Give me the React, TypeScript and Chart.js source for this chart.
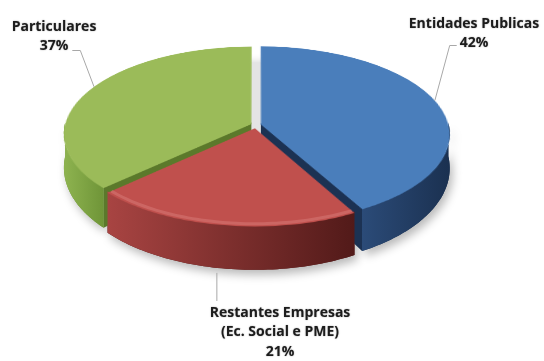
import React, { useEffect, useRef } from "react";
import { Chart, registerables } from "chart.js";

Chart.register(...registerables);

// ---------- data ----------
const categories = ["Entidades Publicas", "Restantes Empresas (Ec. Social e PME)", "Particulares"];
const labelLines = [["Entidades Publicas"], ["Restantes Empresas", "(Ec. Social e PME)"], ["Particulares"]];
const shares = [42, 21, 37];

// ---------- styles ----------
const topColors = ["#4a7ebb", "#c0504d", "#9bbb59"];
const wallColors = [
  ["#2b4b78", "#1b3151"],
  ["#a84442", "#521a19"],
  ["#8db24f", "#6f9538"],
];
const cutColors = ["#1c3253", "#7a2826", "#5b792b"];
const rimHighlights = ["rgba(0,0,0,0)", "rgba(255,190,190,0.2)", "rgba(0,0,0,0)"];
const explodeOffsets = [18, 25, 18];

const W = 544;
const H = 361;
const FLAT_RADIUS = 165;
// perspective view of the disc
const PERSP = 0.115;
const VIEW_X = 256;
const VIEW_Y = 125;
const SCALE_X = 185;
const SCALE_Y = 86;
const DEPTH_SIDE = 32;
const DEPTH_FRONT = 11;
const SEAM = 1.5;
const FONT = 'bold 14px "Open Sans", "Liberation Sans", sans-serif';
const LINE_H = 19.5;

// label layout: text center x, first line y, leader angle nudge (deg), leader kind
const labelLayout = [
  { x: 474, y: 24, nudge: -2, side: "left" },
  { x: 280, y: 313, nudge: 1.4, side: "bottom" },
  { x: 54, y: 27, nudge: 3.6, side: "right" },
];

function geom(arc: any) {
  const p = arc.getProps(["x", "y", "startAngle", "endAngle", "outerRadius", "circumference"], true);
  const off = (arc.options.offset || 0) / 4;
  const mid = (p.startAngle + p.endAngle) / 2;
  const fix = 1 - Math.sin(Math.min(Math.PI, p.circumference || 0));
  return {
    fx: p.x,
    fy: p.y,
    R: p.outerRadius,
    ax: p.x + Math.cos(mid) * off,
    ay: p.y + Math.sin(mid) * off,
    r: p.outerRadius + off * fix,
    start: p.startAngle,
    end: p.endAngle,
    mid,
  };
}

function project(g: any, px: number, py: number) {
  const u = (px - g.fx) / g.R;
  const v = (py - g.fy) / g.R;
  const w = 1 - PERSP * v;
  return { x: VIEW_X + (SCALE_X * u) / w, y: VIEW_Y + (SCALE_Y * v) / w, v };
}

const depthOf = (v: number) => DEPTH_SIDE + DEPTH_FRONT * v;

function rim(g: any, t: number, bottom: boolean, rr?: number) {
  const r = rr ?? g.r;
  const q = project(g, g.ax + r * Math.cos(t), g.ay + r * Math.sin(t));
  return { x: q.x, y: q.y + (bottom ? depthOf(q.v) : 0) };
}

function frontRanges(start: number, end: number) {
  const out: number[][] = [];
  for (const k of [-1, 0, 1]) {
    const lo = Math.max(start, 2 * Math.PI * k);
    const hi = Math.min(end, 2 * Math.PI * k + Math.PI);
    if (hi > lo + 1e-6) out.push([lo, hi]);
  }
  return out;
}

function wallPath(ctx: CanvasRenderingContext2D, g: any, t0: number, t1: number) {
  const N = 60;
  ctx.beginPath();
  for (let i = 0; i <= N; i++) {
    const p = rim(g, t0 + ((t1 - t0) * i) / N, false);
    if (i === 0) ctx.moveTo(p.x, p.y - SEAM);
    else ctx.lineTo(p.x, p.y - SEAM);
  }
  for (let i = N; i >= 0; i--) {
    const p = rim(g, t0 + ((t1 - t0) * i) / N, true);
    ctx.lineTo(p.x, p.y);
  }
  ctx.closePath();
}

function cutFace(ctx: CanvasRenderingContext2D, g: any, theta: number, color: string) {
  const c = project(g, g.ax, g.ay);
  const rTop = rim(g, theta, false);
  const rBot = rim(g, theta, true);
  ctx.beginPath();
  ctx.moveTo(c.x, c.y - SEAM);
  ctx.lineTo(rTop.x, rTop.y - SEAM);
  ctx.lineTo(rBot.x, rBot.y);
  ctx.lineTo(c.x, c.y + depthOf(c.v));
  ctx.closePath();
  ctx.fillStyle = color;
  ctx.fill();
}

const perspective3d = {
  id: "perspective3d",
  afterDatasetsDraw(chart: any) {
    const ctx: CanvasRenderingContext2D = chart.ctx;
    const canvas: HTMLCanvasElement = chart.canvas;
    const arcs = chart.getDatasetMeta(0).data;
    const gs = arcs.map(geom);
    const g0 = gs[0];

    // keep the flat pie drawn by Chart.js, then re-project it
    const flat = document.createElement("canvas");
    flat.width = canvas.width;
    flat.height = canvas.height;
    flat.getContext("2d")!.drawImage(canvas, 0, 0);
    ctx.save();
    ctx.setTransform(1, 0, 0, 1, 0, 0);
    ctx.clearRect(0, 0, canvas.width, canvas.height);

    // faint ground shadow under the disc
    ctx.save();
    ctx.shadowColor = "rgba(0,0,0,0.22)";
    ctx.shadowBlur = 8;
    ctx.beginPath();
    for (let i = 0; i <= 120; i++) {
      const t = (i / 120) * Math.PI * 2;
      const q = project(g0, g0.fx + g0.R * 0.93 * Math.cos(t), g0.fy + g0.R * 0.93 * Math.sin(t));
      if (i === 0) ctx.moveTo(q.x, q.y + 10);
      else ctx.lineTo(q.x, q.y + 10);
    }
    ctx.closePath();
    ctx.fillStyle = "#e4e4e4";
    ctx.fill();
    ctx.restore();

    // soft shadow of the walls
    ctx.save();
    ctx.shadowColor = "rgba(0,0,0,0.28)";
    ctx.shadowBlur = 10;
    ctx.shadowOffsetX = 3;
    ctx.shadowOffsetY = 5;
    gs.forEach((g: any, i: number) => {
      frontRanges(g.start, g.end).forEach(([a, b]) => {
        wallPath(ctx, g, a, b);
        ctx.fillStyle = wallColors[i][1];
        ctx.fill();
      });
    });
    ctx.restore();

    // radial cut faces
    gs.forEach((g: any, i: number) => {
      if (Math.cos(g.start) < -1e-6) cutFace(ctx, g, g.start, cutColors[i]);
      if (Math.cos(g.end) > 1e-6) cutFace(ctx, g, g.end, cutColors[i]);
    });

    // outer walls
    gs.forEach((g: any, i: number) => {
      frontRanges(g.start, g.end).forEach(([a, b]) => {
        const pa = rim(g, a, false);
        const pb = rim(g, b, false);
        const x0 = Math.min(pa.x, pb.x);
        const x1 = Math.max(pa.x, pb.x);
        const grad = ctx.createLinearGradient(x0, 0, x1 + 0.01, 0);
        grad.addColorStop(0, wallColors[i][0]);
        grad.addColorStop(1, wallColors[i][1]);
        wallPath(ctx, g, a, b);
        ctx.fillStyle = grad;
        ctx.fill();
      });
    });

    // top faces: row-by-row perspective re-projection of the Chart.js pie
    ctx.imageSmoothingEnabled = true;
    (ctx as any).imageSmoothingQuality = "high";
    const vOf = (Y: number) => {
      const d = Y - VIEW_Y;
      return d / (SCALE_Y + PERSP * d);
    };
    const yTop = Math.floor(VIEW_Y - (SCALE_Y * 1.1) / (1 + PERSP * 1.1)) - 2;
    const yBot = Math.ceil(VIEW_Y + (SCALE_Y * 1.1) / (1 - PERSP * 1.1)) + 2;
    for (let Y = yTop; Y <= yBot; Y++) {
      const v0 = vOf(Y);
      const v1 = vOf(Y + 1);
      const vm = (v0 + v1) / 2;
      const scale = SCALE_X / ((1 - PERSP * vm) * g0.R);
      const sy = g0.fy + v0 * g0.R;
      const sh = (v1 - v0) * g0.R;
      if (sy < 0 || sy + sh > flat.height) continue;
      ctx.drawImage(flat, 0, sy, flat.width, sh, VIEW_X - g0.fx * scale, Y, flat.width * scale, 1);
    }

    // subtle bevel highlight along the front rim
    gs.forEach((g: any, i: number) => {
      frontRanges(g.start, g.end).forEach(([a, b]) => {
        const N = 60;
        ctx.beginPath();
        for (let k = 0; k <= N; k++) {
          const p = rim(g, a + ((b - a) * k) / N, false, g.r - 4);
          if (k === 0) ctx.moveTo(p.x, p.y);
          else ctx.lineTo(p.x, p.y);
        }
        ctx.strokeStyle = rimHighlights[i];
        ctx.lineWidth = 3;
        ctx.stroke();
      });
    });
    ctx.restore();
  },
  afterDraw(chart: any) {
    const ctx: CanvasRenderingContext2D = chart.ctx;
    const arcs = chart.getDatasetMeta(0).data;
    const gs = arcs.map(geom);
    const total = shares.reduce((a, b) => a + b, 0);
    ctx.save();
    ctx.font = FONT;
    ctx.textAlign = "center";
    ctx.textBaseline = "middle";
    gs.forEach((g: any, i: number) => {
      const L = labelLayout[i];
      const lines = [...labelLines[i], Math.round((shares[i] / total) * 100) + "%"];
      const pctY = L.y + (lines.length - 1) * LINE_H;
      const pctW = ctx.measureText(lines[lines.length - 1]).width;
      const t = g.mid + (L.nudge * Math.PI) / 180;
      ctx.strokeStyle = "#a8a8a8";
      ctx.lineWidth = 1;
      ctx.beginPath();
      if (L.side === "bottom") {
        const p = rim(g, t, true);
        ctx.moveTo(p.x, p.y + 5);
        ctx.lineTo(p.x, L.y - 12);
      } else if (L.side === "left") {
        const p = rim(g, t, false);
        const sx = L.x - pctW / 2 - 3;
        ctx.moveTo(sx, pctY + 2);
        ctx.lineTo(sx - 7, pctY + 2);
        ctx.lineTo(p.x, p.y);
      } else {
        const p = rim(g, t, false);
        const sx = L.x + pctW / 2 + 4;
        ctx.moveTo(sx, pctY + 4);
        ctx.lineTo(sx + 8, pctY + 4);
        ctx.lineTo(p.x, p.y);
      }
      ctx.stroke();
      ctx.fillStyle = "#1c1c1c";
      ctx.shadowColor = "rgba(0,0,0,0.4)";
      ctx.shadowBlur = 1.5;
      lines.forEach((s, j) => ctx.fillText(s, L.x, L.y + j * LINE_H));
      ctx.shadowColor = "transparent";
      ctx.shadowBlur = 0;
    });
    ctx.restore();
  },
};

export default function App() {
  const ref = useRef<HTMLCanvasElement>(null);
  useEffect(() => {
    if (!ref.current) return;
    const chart = new Chart(ref.current, {
      type: "pie",
      data: {
        labels: categories,
        datasets: [
          {
            data: shares,
            backgroundColor: topColors,
            borderWidth: 0,
            offset: explodeOffsets,
            clip: false,
          } as any,
        ],
      },
      options: {
        responsive: false,
        animation: false,
        radius: FLAT_RADIUS,
        rotation: 0,
        events: [],
        layout: { padding: 0 },
        plugins: { legend: { display: false }, tooltip: { enabled: false } },
      } as any,
      plugins: [perspective3d as any],
    });
    return () => chart.destroy();
  }, []);
  return (
    <div style={{ position: "absolute", left: 0, top: 0, width: W, height: H, background: "#fff" }}>
      <canvas ref={ref} width={W} height={H} style={{ display: "block" }} />
    </div>
  );
}
